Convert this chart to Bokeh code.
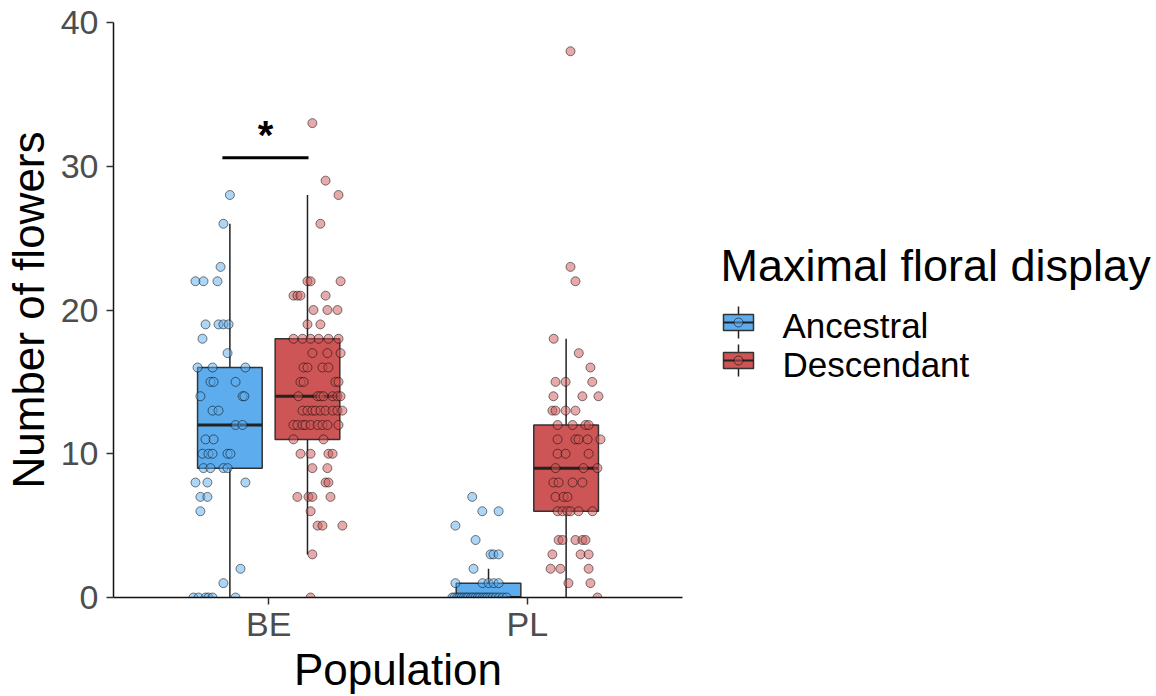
from bokeh.plotting import figure
from bokeh.layouts import row
from bokeh.models import ColumnDataSource, FactorRange, FixedTicker, Range1d
from bokeh.core.properties import value
from bokeh.embed import file_html
from bokeh.resources import INLINE

FONT = "Liberation Sans"

populations = ["BE", "PL"]
lineages = ["Ancestral", "Descendant"]
lineage_colors = ["#5CACEE", "#CD5555"]
legend_title = "Maximal floral display"

# Box statistics, one entry per population x lineage
box_pop = ["BE", "BE", "PL", "PL"]
box_lin = ["Ancestral", "Descendant", "Ancestral", "Descendant"]
box_q1 = [9, 11, 0, 6]
box_med = [12, 14, 0, 9]
box_q3 = [16, 18, 1, 12]
box_lo = [0, 3, 0, 0]
box_hi = [26, 28, 2, 18]

# Flower counts of individual plants, with their horizontal jitter
be_anc_flowers = [28, 26, 23, 22, 22, 22, 19, 19, 19, 19, 18, 17, 16, 16, 16,
                  15, 15, 15, 14, 14, 14, 13, 13, 12, 12, 11, 11, 10, 10, 10,
                  10, 10, 9, 9, 9, 9, 8, 8, 8, 7, 7, 6, 2, 1, 0, 0, 0, 0, 0, 0]
be_anc_jitter = [0.0, -0.025, -0.036, -0.133, -0.102, -0.048, -0.094, -0.044,
                 -0.025, -0.005, -0.106, -0.009, -0.125, -0.067, 0.060, -0.075,
                 -0.063, 0.022, -0.114, 0.049, 0.056, -0.067, -0.044, 0.022,
                 0.049, -0.094, -0.063, -0.106, -0.083, -0.067, -0.009, 0.002,
                 -0.102, -0.075, -0.025, -0.009, -0.133, -0.087, 0.060, -0.114,
                 -0.087, -0.114, 0.041, -0.025, -0.141, -0.121, -0.094, -0.083,
                 -0.067, 0.022]

be_desc_flowers = [33, 29, 28, 26, 22, 22, 22, 21, 21, 21, 21, 20, 20, 20, 19,
                   19, 18, 18, 18, 18, 18, 18, 17, 17, 17, 16, 16, 16, 16, 15,
                   15, 15, 15, 14, 14, 14, 14, 14, 14, 14, 13, 13, 13, 13, 13,
                   13, 13, 13, 13, 12, 12, 12, 12, 12, 12, 12, 12, 12, 11, 11,
                   10, 10, 10, 10, 9, 9, 8, 8, 7, 7, 7, 7, 6, 5, 5, 5, 3, 0]
be_desc_jitter = [0.019, 0.070, 0.120, 0.050, 0.0, 0.012, 0.128, -0.054, -0.039,
                  -0.027, 0.070, 0.023, 0.077, 0.116, 0.0, 0.050, -0.054, -0.019,
                  0.012, 0.043, 0.081, 0.120, 0.019, 0.077, 0.128, -0.015, 0.0,
                  0.058, 0.081, -0.027, -0.015, 0.108, 0.120, -0.035, 0.039,
                  0.050, 0.062, 0.097, 0.116, 0.128, -0.019, 0.0, 0.019, 0.031,
                  0.050, 0.070, 0.097, 0.116, 0.135, -0.054, -0.039, -0.019,
                  -0.008, 0.012, 0.039, 0.058, 0.077, 0.120, -0.054, 0.062,
                  -0.027, 0.012, 0.081, 0.097, 0.019, 0.077, 0.070, 0.081,
                  -0.039, 0.004, 0.019, 0.089, 0.012, 0.039, 0.058, 0.135,
                  0.019, 0.012]

pl_anc_flowers = [7, 6, 6, 5, 4, 3, 3, 3, 2, 1, 1, 1, 1, 1,
                  0, 0, 0, 0, 0, 0, 0, 0, 0, 0, 0, 0, 0, 0, 0, 0, 0, 0, 0, 0, 0, 0]
pl_anc_jitter = [-0.063, -0.024, 0.039, -0.128, -0.050, 0.008, 0.019, 0.039,
                 -0.058, -0.128, -0.023, 0.0, 0.020, 0.039,
                 -0.140, -0.132, -0.121, -0.113, -0.104, -0.095, -0.086, -0.079,
                 -0.068, -0.060, -0.050, -0.041, -0.033, -0.022, -0.013, -0.004,
                 0.006, 0.017, 0.028, 0.041, 0.055, 0.070]

pl_desc_flowers = [38, 23, 22, 18, 17, 16, 15, 15, 15, 14, 14, 14, 13, 13, 13,
                   13, 12, 12, 12, 12, 11, 11, 11, 11, 11, 10, 10, 10, 9, 9, 9,
                   8, 8, 8, 8, 7, 7, 7, 6, 6, 6, 6, 6, 6, 4, 4, 4, 4, 4, 3, 3,
                   3, 2, 2, 2, 1, 1, 0]
pl_desc_jitter = [0.017, 0.017, 0.036, -0.048, 0.049, 0.094, -0.041, -0.002,
                  0.101, -0.049, 0.063, 0.125, -0.053, -0.041, -0.002, 0.036,
                  -0.033, 0.025, 0.075, 0.087, -0.033, 0.036, 0.048, 0.083,
                  0.133, -0.033, -0.002, 0.087, -0.041, 0.067, 0.121, -0.049,
                  -0.029, 0.025, 0.063, -0.041, -0.010, 0.005, -0.033, -0.014,
                  0.005, 0.017, 0.048, 0.102, -0.029, -0.014, 0.036, 0.063,
                  0.075, -0.053, 0.056, 0.087, -0.060, -0.022, 0.087, 0.009,
                  0.094, 0.121]

plant_groups = [
    ("BE", "Ancestral", be_anc_flowers, be_anc_jitter),
    ("BE", "Descendant", be_desc_flowers, be_desc_jitter),
    ("PL", "Ancestral", pl_anc_flowers, pl_anc_jitter),
    ("PL", "Descendant", pl_desc_flowers, pl_desc_jitter),
]

# Significance bracket between the two BE boxes
sig_x = [-0.179, 0.154]
sig_y = 30.6
sig_label = "*"
sig_label_y = 32.2

dodge = {"Ancestral": -0.15, "Descendant": 0.15}
box_half = 0.125
color_of = dict(zip(lineages, lineage_colors))

FRAME_TOP, FRAME_H, BOTTOM = 22, 575, 99

p = figure(
    x_range=FactorRange(factors=populations, range_padding=0.1,
                        range_padding_units="absolute"),
    y_range=Range1d(0, 40),
    frame_width=569, frame_height=FRAME_H,
    min_border_left=113, min_border_right=18,
    min_border_top=FRAME_TOP, min_border_bottom=BOTTOM,
    output_backend="svg", toolbar_location=None,
)
p.outline_line_color = None
p.grid.visible = False
p.background_fill_color = "white"
p.border_fill_color = "white"

# boxes
bx = ColumnDataSource(dict(
    left=[(pp, dodge[l] - box_half) for pp, l in zip(box_pop, box_lin)],
    right=[(pp, dodge[l] + box_half) for pp, l in zip(box_pop, box_lin)],
    mid=[(pp, dodge[l]) for pp, l in zip(box_pop, box_lin)],
    q1=box_q1, med=box_med, q3=box_q3, lo=box_lo, hi=box_hi,
    color=[color_of[l] for l in box_lin],
))
p.segment(x0="mid", x1="mid", y0="lo", y1="hi", source=bx,
          line_color="#222222", line_width=1.5)
p.quad(left="left", right="right", bottom="q1", top="q3", source=bx,
       fill_color="color", fill_alpha=1.0, line_color="#333333", line_width=1.5)
p.segment(x0="left", x1="right", y0="med", y1="med", source=bx,
          line_color="#222222", line_width=3)

# individual plants
for pop, lin, flowers, jit in plant_groups:
    src = ColumnDataSource(dict(
        x=[(pop, dodge[lin] + j) for j in jit],
        y=flowers,
    ))
    p.scatter(x="x", y="y", source=src, size=9, marker="circle",
              fill_color=color_of[lin], fill_alpha=0.5,
              line_color="black", line_alpha=0.5, line_width=1)

# significance annotation
p.segment(x0=[("BE", sig_x[0])], x1=[("BE", sig_x[1])], y0=[sig_y], y1=[sig_y],
          line_color="black", line_width=3)
p.text(x=[("BE", (sig_x[0] + sig_x[1]) / 2)], y=[sig_label_y], text=[sig_label],
       text_font=value(FONT), text_font_size="40px", text_font_style="bold",
       text_align="center", text_baseline="alphabetic", text_color="black")

# axes
p.yaxis.ticker = FixedTicker(ticks=[0, 10, 20, 30, 40])
p.axis.minor_tick_line_color = None
p.axis.major_tick_in = 0
p.axis.major_tick_out = 7
p.axis.major_tick_line_width = 1.5
p.axis.major_tick_line_color = "#333333"
p.axis.axis_line_width = 1.5
p.axis.axis_line_color = "#111111"
p.axis.major_label_text_font = FONT
p.axis.major_label_text_font_size = "34px"
p.axis.major_label_text_color = "#4D4D4D"
p.axis.axis_label_text_font = FONT
p.axis.axis_label_text_font_size = "44px"
p.axis.axis_label_text_font_style = "normal"
p.axis.axis_label_text_color = "black"
p.yaxis.axis_label = "Number of flowers"
p.xaxis.axis_label = "Population"
p.yaxis.major_label_standoff = 8
p.yaxis.axis_label_standoff = 5
p.xaxis.major_label_standoff = 0
p.xaxis.axis_label_standoff = -1

# legend panel: frame aligned with the main plot, data units are page pixels
leg = figure(width=456, frame_height=FRAME_H, x_range=Range1d(700, 1156),
             y_range=Range1d(FRAME_TOP + FRAME_H, FRAME_TOP),
             output_backend="svg", toolbar_location=None,
             min_border_left=0, min_border_right=0,
             min_border_top=FRAME_TOP, min_border_bottom=BOTTOM,
             x_axis_type=None, y_axis_type=None)
leg.outline_line_color = None
leg.grid.visible = False

key_y = [322, 360]
label_y = [325, 364]
key_x = 738
leg.text(x=[720], y=[265], text=[legend_title], text_font=value(FONT),
         text_font_size="45px", text_baseline="middle", text_color="black")
ks = ColumnDataSource(dict(
    y=key_y,
    top=[k - 8 for k in key_y], bottom=[k + 8 for k in key_y],
    wt=[k - 16 for k in key_y], wb=[k + 16 for k in key_y],
    ty=label_y,
    color=lineage_colors, label=lineages,
))
leg.segment(x0=key_x, x1=key_x, y0="wt", y1="wb", source=ks,
            line_color="#222222", line_width=1.5)
leg.quad(left=key_x - 15, right=key_x + 15, top="top", bottom="bottom", source=ks,
         fill_color="color", line_color="#333333", line_width=1.5)
leg.segment(x0=key_x - 15, x1=key_x + 15, y0="y", y1="y", source=ks,
            line_color="#222222", line_width=2)
leg.scatter(x=key_x, y="y", source=ks, size=9, marker="circle",
            fill_color="color", fill_alpha=0.5, line_color="black",
            line_alpha=0.5, line_width=1)
leg.text(x=782, y="ty", text="label", source=ks, text_font=value(FONT),
         text_font_size="35px", text_baseline="middle", text_color="black")

layout = row(p, leg, spacing=0)
open("out.html", "w").write(file_html(layout, INLINE))
